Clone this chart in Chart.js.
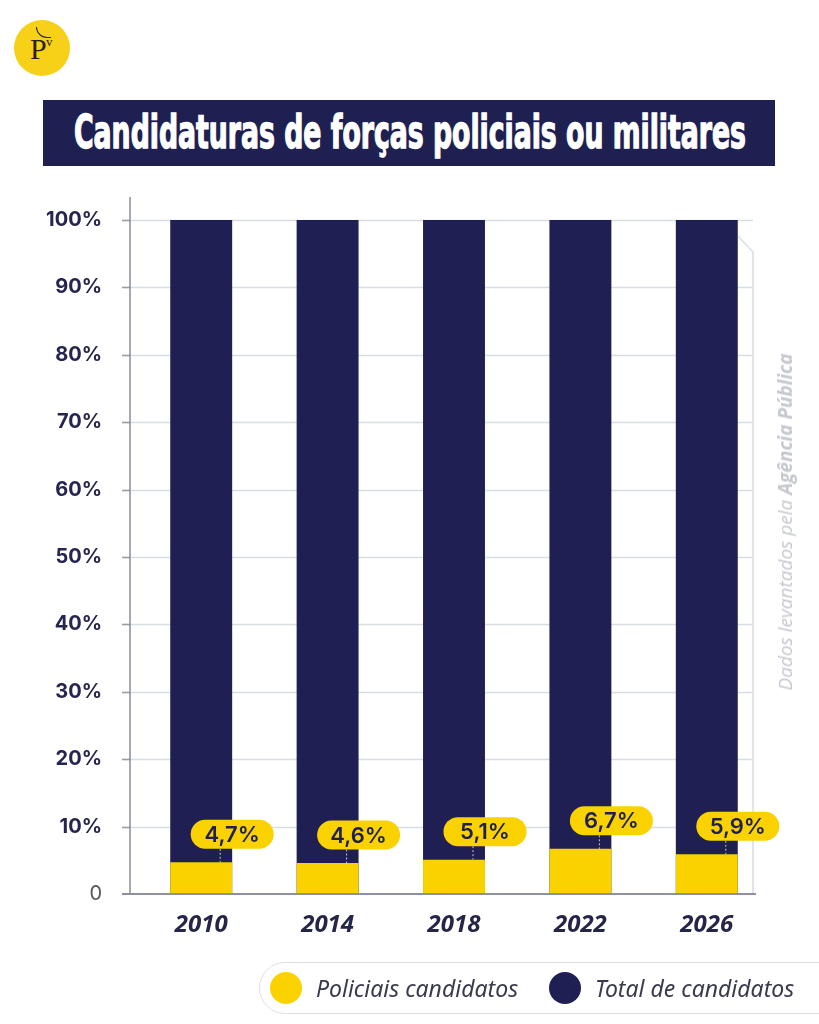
<!DOCTYPE html>
<html lang="pt">
<head>
<meta charset="utf-8">
<title>Candidaturas de forças policiais ou militares</title>
<script src="https://cdn.jsdelivr.net/npm/chart.js@4.4.1/dist/chart.umd.min.js"></script>
<style>
  html, body { margin: 0; padding: 0; background: #fff; }
  body { width: 819px; height: 1024px; position: relative; overflow: hidden; }
  #logo {
    position: absolute; left: 14px; top: 20px; width: 56px; height: 56px;
    border-radius: 50%; background: #f7d117;
  }
  #logo .p {
    position: absolute; left: 16px; top: 14px; font: 30px/30px 'Liberation Serif', serif; color: #2a2218;
  }
  #logo .v {
    position: absolute; left: 32px; top: 15px; font: 13px/13px 'Liberation Serif', serif; color: #2a2218;
  }
  #logo .arc {
    position: absolute; left: 22px; top: 7px; width: 14px; height: 10px;
    border-left: 1.5px solid #2a2218; border-bottom: 1.5px solid #2a2218; border-bottom-left-radius: 12px;
  }
  #titleBox {
    position: absolute; left: 43px; top: 100px; width: 732px; height: 66px; background: #1f2052;
    overflow: hidden;
  }
  #title {
    position: absolute; left: 31px; top: 6px; white-space: nowrap; color: #fff;
    font: bold 47px/52px 'Liberation Sans Narrow', 'DejaVu Sans Condensed', sans-serif;
    -webkit-text-stroke: 1.4px #fff; transform-origin: 0 0;
  }
  #chartBox { position: absolute; left: 0; top: 0; width: 819px; height: 1024px; }
  #source {
    position: absolute; left: 785px; top: 522px; white-space: nowrap;
    transform: translate(-50%, -50%) rotate(-90deg);
    font: italic 19px 'Open Sans', sans-serif; color: #c4c8ce;
  }
  #source b { font-weight: 700; }
  #legend {
    position: absolute; left: 259px; top: 962px; width: 620px; height: 50px;
    border: 1.5px solid #dedfe2; border-radius: 26px; background: #fff;
  }
  .item { position: absolute; top: 0; height: 50px; display: flex; align-items: center; }
  .dot { width: 32px; height: 32px; border-radius: 50%; margin-right: 14px; }
  .lbl { font: italic 23px 'Noto Sans', sans-serif; color: #3a3a4e; }
</style>
</head>
<body>
<div id="logo"><div class="arc"></div><span class="p">P</span><span class="v">v</span></div>
<div id="titleBox"><div id="title">Candidaturas de forças policiais ou militares</div></div>
<div id="chartBox"><canvas id="chart" width="819" height="1024"></canvas></div>
<div id="source">Dados levantados pela <b>Agência Pública</b></div>
<div id="legend"></div>

<script>
const years = ['2010', '2014', '2018', '2022', '2026'];
const policiais = [4.7, 4.6, 5.1, 6.7, 5.9];
const total = [100, 100, 100, 100, 100];
const yTicks = [0, 10, 20, 30, 40, 50, 60, 70, 80, 90, 100];
const seriesNames = ['Policiais candidatos', 'Total de candidatos'];

const yellow = '#f9d200';
const navy = '#1f1f54';

// fit title to the box width
const title = document.getElementById('title');
const tw = title.getBoundingClientRect().width;
title.style.transform = 'scale(' + (672 / tw) + ', 1)';

// legend built from the series names
const legend = document.getElementById('legend');
[[seriesNames[0], yellow, 10], [seriesNames[1], navy, 289]].forEach(([name, color, left]) => {
    const item = document.createElement('div');
    item.className = 'item';
    item.style.left = left + 'px';
    item.innerHTML = '<div class="dot" style="background:' + color + '"></div><span class="lbl">' + name + '</span>';
    legend.appendChild(item);
});

function fmt(v) {
    return v.toFixed(1).replace('.', ',') + '%';
}

const gridPlugin = {
    id: 'grid',
    beforeDatasetsDraw(chart) {
        const ctx = chart.ctx;
        const y = chart.scales.y;
        const left = chart.chartArea.left;
        const axisX = left - 8;
        const right = 753;
        const y0 = y.getPixelForValue(0);
        ctx.save();
        ctx.strokeStyle = '#d8dde2';
        ctx.lineWidth = 1.5;
        yTicks.forEach(t => {
            if (t === 0) return;
            const py = Math.round(y.getPixelForValue(t)) + 0.5;
            ctx.beginPath();
            ctx.moveTo(axisX - 8, py);
            ctx.lineTo(right, py);
            ctx.stroke();
        });
        // right border with a slanted top
        ctx.beginPath();
        ctx.moveTo(right - 15, y.getPixelForValue(100) + 16);
        ctx.lineTo(right, y.getPixelForValue(100) + 32);
        ctx.lineTo(right, y0);
        ctx.stroke();
        // small tick stubs on the axis
        ctx.strokeStyle = '#9a9ca8';
        yTicks.forEach(t => {
            if (t === 0) return;
            const py = Math.round(y.getPixelForValue(t)) + 0.5;
            ctx.beginPath();
            ctx.moveTo(axisX - 8, py);
            ctx.lineTo(axisX, py);
            ctx.stroke();
        });
        // y axis line
        ctx.strokeStyle = '#8a8c96';
        ctx.lineWidth = 1.5;
        ctx.beginPath();
        ctx.moveTo(axisX, y.getPixelForValue(100) - 23);
        ctx.lineTo(axisX, y0);
        ctx.stroke();
        ctx.restore();
    },
    afterDatasetsDraw(chart) {
        const ctx = chart.ctx;
        const y0 = chart.scales.y.getPixelForValue(0);
        ctx.save();
        ctx.strokeStyle = '#8d90a2';
        ctx.lineWidth = 2;
        ctx.beginPath();
        ctx.moveTo(chart.chartArea.left - 16, y0);
        ctx.lineTo(756, y0);
        ctx.stroke();

        // value pills
        const meta = chart.getDatasetMeta(0);
        meta.data.forEach((bar, i) => {
            const cx = bar.x + 31;
            const cy = bar.y - 28;
            const w = 83, h = 29;
            // dotted connector
            ctx.strokeStyle = '#c9c9b0';
            ctx.lineWidth = 1;
            ctx.setLineDash([2, 2]);
            ctx.beginPath();
            ctx.moveTo(bar.x + 19, cy + h / 2);
            ctx.lineTo(bar.x + 19, bar.y);
            ctx.stroke();
            ctx.setLineDash([]);
            ctx.fillStyle = yellow;
            ctx.beginPath();
            ctx.roundRect(cx - w / 2, cy - h / 2, w, h, 14.5);
            ctx.fill();
            ctx.fillStyle = navy;
            ctx.font = '600 22px Inter, sans-serif';
            ctx.textAlign = 'center';
            ctx.textBaseline = 'middle';
            ctx.fillText(fmt(policiais[i]), cx, cy + 1);
        });
        ctx.restore();
    }
};

const ctx = document.getElementById('chart').getContext('2d');
new Chart(ctx, {
    type: 'bar',
    data: {
        labels: years,
        datasets: [{
            label: seriesNames[0],
            data: policiais,
            backgroundColor: yellow,
            order: 0
        }, {
            label: seriesNames[1],
            data: total,
            backgroundColor: navy,
            order: 1
        }]
    },
    options: {
        responsive: false,
        animation: false,
        layout: { padding: { top: 220, right: 49, left: 0, bottom: 0 } },
        datasets: {
            bar: { grouped: false, categoryPercentage: 1, barPercentage: 0.49 }
        },
        plugins: {
            legend: { display: false },
            tooltip: { enabled: false }
        },
        scales: {
            x: {
                grid: { display: false, drawTicks: false },
                border: { display: false },
                afterFit(scale) { scale.height = 130; },
                ticks: {
                    padding: 17,
                    color: '#25254a',
                    font: { family: "'Open Sans', sans-serif", size: 24, weight: 'bold', style: 'italic' }
                }
            },
            y: {
                min: 0,
                max: 100,
                grid: { display: false, drawTicks: false },
                border: { display: false },
                afterFit(scale) { scale.width = 138; },
                afterBuildTicks(scale) { scale.ticks = yTicks.map(v => ({ value: v })); },
                ticks: {
                    padding: 36,
                    color: c => c.tick.value === 0 ? '#55565f' : '#25254f',
                    font: c => ({
                        family: 'Inter, sans-serif',
                        size: 20,
                        weight: c.tick && c.tick.value === 0 ? 'normal' : 'bold'
                    }),
                    callback: v => v === 0 ? '0' : v + '%'
                }
            }
        }
    },
    plugins: [gridPlugin]
});
</script>
</body>
</html>
